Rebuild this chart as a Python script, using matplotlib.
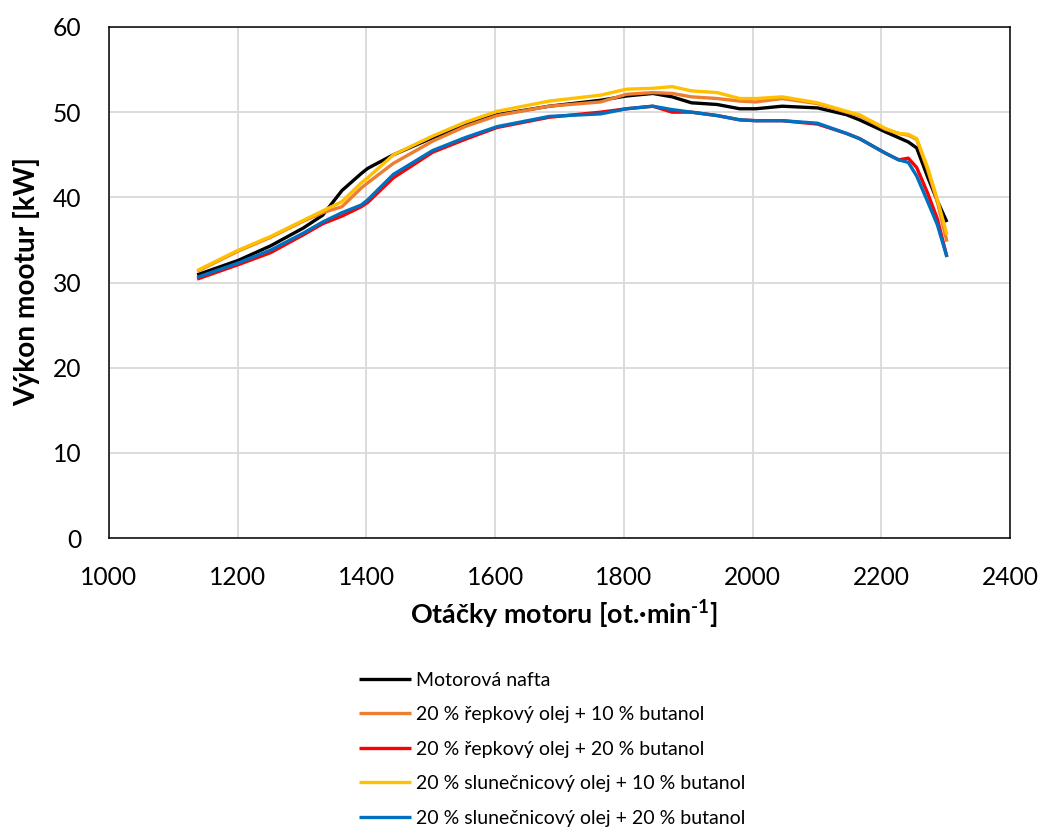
import matplotlib
matplotlib.use("Agg")
import matplotlib.pyplot as plt

plt.rcParams['font.family'] = ['Lato', 'DejaVu Sans']
plt.rcParams['mathtext.fontset'] = 'custom'
plt.rcParams['mathtext.rm'] = 'Lato:bold'
plt.rcParams['mathtext.bf'] = 'Lato:bold'

rpm = [1137, 1201, 1251, 1302, 1332, 1362, 1392, 1402, 1442, 1503, 1553, 1603,
       1684, 1764, 1804, 1845, 1875, 1905, 1945, 1980, 2005, 2046, 2101, 2146,
       2166, 2206, 2227, 2242, 2255, 2272, 2287, 2302]

nafta = [30.9, 32.6, 34.3, 36.4, 37.9, 40.8, 42.8, 43.4, 45.0, 47.0, 48.5, 49.7,
         50.7, 51.4, 51.9, 52.2, 51.8, 51.1, 50.9, 50.4, 50.4, 50.7, 50.5, 49.7,
         49.1, 47.7, 47.0, 46.5, 45.8, 42.4, 39.6, 37.1]
repka10 = [31.3, 33.7, 35.3, 37.2, 38.2, 38.9, 41.1, 41.7, 44.0, 46.6, 48.3, 49.6,
           50.7, 51.2, 52.1, 52.3, 52.2, 51.8, 51.6, 51.3, 51.2, 51.6, 51.0, 50.0,
           49.6, 48.0, 47.5, 47.3, 46.8, 43.2, 39.5, 34.8]
repka20 = [30.4, 32.1, 33.5, 35.6, 36.9, 37.8, 38.9, 39.4, 42.3, 45.3, 46.8, 48.2,
           49.4, 50.0, 50.4, 50.7, 50.0, 50.0, 49.6, 49.1, 49.0, 49.0, 48.6, 47.5,
           46.9, 45.2, 44.4, 44.6, 43.5, 40.5, 37.5, 33.0]
slun10 = [31.4, 33.8, 35.4, 37.3, 38.4, 39.5, 41.7, 42.3, 45.0, 47.2, 48.8, 50.1,
          51.3, 52.0, 52.7, 52.8, 53.0, 52.5, 52.3, 51.6, 51.6, 51.8, 51.1, 50.1,
          49.7, 48.1, 47.5, 47.4, 46.9, 43.5, 39.8, 35.6]
slun20 = [30.6, 32.3, 33.8, 35.8, 37.1, 38.2, 39.1, 39.7, 42.7, 45.5, 47.0, 48.3,
          49.5, 49.8, 50.4, 50.7, 50.3, 50.0, 49.6, 49.1, 49.0, 49.0, 48.7, 47.5,
          46.9, 45.2, 44.4, 44.1, 42.5, 39.5, 36.8, 33.0]

labels = ["Motorová nafta",
          "20 % řepkový olej + 10 % butanol",
          "20 % řepkový olej + 20 % butanol",
          "20 % slunečnicový olej + 10 % butanol",
          "20 % slunečnicový olej + 20 % butanol"]
series = [nafta, repka10, repka20, slun10, slun20]
colors = ["#000000", "#ED7D31", "#FF0000", "#FFC000", "#0070C0"]

xticks = [1000, 1200, 1400, 1600, 1800, 2000, 2200, 2400]
yticks = [0, 10, 20, 30, 40, 50, 60]

W, H = 1043, 834
fig = plt.figure(figsize=(W / 100, H / 100), dpi=100)
ax = fig.add_axes([109 / W, 1 - 538 / H, (1010 - 109) / W, (538 - 27) / H])

lines = []
for y, c, lab in zip(series, colors, labels):
    ln, = ax.plot(rpm, y, color=c, lw=2.4, label=lab,
                  solid_capstyle='butt', solid_joinstyle='round')
    lines.append(ln)

ax.set_xlim(1000, 2400)
ax.set_ylim(0, 60)
ax.set_xticks(xticks)
ax.set_yticks(yticks)
ax.tick_params(length=0, labelsize=18, pad=20)
ax.grid(True, color="#d9d9d9", lw=1.3)
ax.set_axisbelow(True)
for s in ax.spines.values():
    s.set_color("#000000")
    s.set_linewidth(1.1)

xl = fig.text(564 / W, 1 - 614 / H, r"Otáčky motoru [ot.·min$^{\text{-1}}$]",
              fontsize=17, fontweight='bold', ha='center', va='center')
yl = fig.text(27 / W, 1 - 282 / H, "Výkon mootur [kW]", fontsize=17,
              fontweight='bold', ha='center', va='center', rotation=90)

leg = fig.legend(handles=lines, labels=labels, loc='upper left',
                 bbox_to_anchor=(351 / W, 1 - 664 / H), frameon=False,
                 fontsize=14, handlelength=2.7, handletextpad=0.25,
                 labelspacing=0.9, borderaxespad=0)

# scale axis text sizes so the rendered widths match the reference
fig.canvas.draw()
r = fig.canvas.get_renderer()

def fit(t, target):
    w = t.get_window_extent(r).width
    t.set_fontsize(t.get_fontsize() * target / w)

xtl = ax.get_xticklabels()
s = 57 / xtl[0].get_window_extent(r).width
for t in xtl + ax.get_yticklabels():
    t.set_fontsize(t.get_fontsize() * s)
fit(xl, 308)
ytw = yl.get_window_extent(r).height
yl.set_fontsize(yl.get_fontsize() * 249 / ytw)

fig.savefig("out.png", dpi=100)
